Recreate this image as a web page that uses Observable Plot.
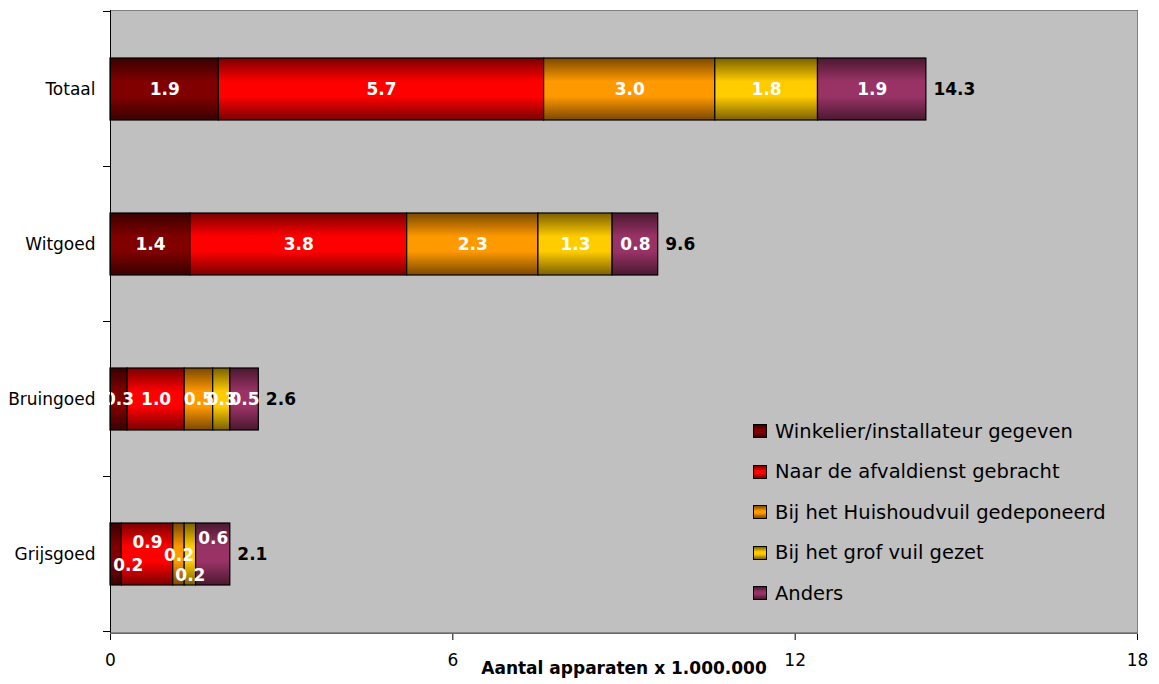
<!DOCTYPE html>
<html>
<head>
<meta charset="utf-8">
<script src="https://cdn.jsdelivr.net/npm/d3@7"></script>
<script src="https://cdn.jsdelivr.net/npm/@observablehq/plot@0.6"></script>
<style>
  body { margin: 0; background: #fff; font-family: "DejaVu Sans", sans-serif; }
  #wrap { position: relative; width: 1159px; height: 684px; }
  #legend { position: absolute; left: 753px; top: 411px; font-family: "DejaVu Sans", sans-serif; font-size: 19.5px; color: #000; }
  #legend .item { height: 40.5px; display: flex; align-items: center; white-space: nowrap; }
  #legend .sw { width: 14px; height: 14px; box-sizing: border-box; border: 1px solid #000; margin-right: 8px; flex: none; }
</style>
</head>
<body>
<div id="wrap"></div>
<script>
// ---- data ----
const categories = ["Totaal", "Witgoed", "Bruingoed", "Grijsgoed"];
const series = [
  "Winkelier/installateur gegeven",
  "Naar de afvaldienst gebracht",
  "Bij het Huishoudvuil gedeponeerd",
  "Bij het grof vuil gezet",
  "Anders"
];
const winkelier    = [1.9, 1.4, 0.3, 0.2];
const afvaldienst  = [5.7, 3.8, 1.0, 0.9];
const huishoudvuil = [3.0, 2.3, 0.5, 0.2];
const grofVuil     = [1.8, 1.3, 0.3, 0.2];
const anders       = [1.9, 0.8, 0.5, 0.6];
const totals       = [14.3, 9.6, 2.6, 2.1];
const xTicks = [0, 6, 12, 18];
const xTitle = "Aantal apparaten x 1.000.000";

// ---- styles ----
const shades = [ // [edge, middle]
  ["#3a0000", "#800000"],
  ["#7a0000", "#ff0000"],
  ["#7a4800", "#ff9900"],
  ["#7a6000", "#ffcc00"],
  ["#4a1830", "#993366"]
];
const font = "DejaVu Sans, sans-serif";

// ---- derived table ----
const valuesBySeries = [winkelier, afvaldienst, huishoudvuil, grofVuil, anders];
const stacked = [];
categories.forEach((cat, ci) => {
  let acc = 0;
  series.forEach((s, si) => {
    const v = valuesBySeries[si][ci];
    stacked.push({cat, series: s, si, value: v, x1: acc, x2: acc + v});
    acc += v;
  });
});

// label nudges for the crowded Grijsgoed bar (as in the original)
const grijsNudge = [{dx: 12, dy: 11}, {dx: 0, dy: -12}, {dx: 0, dy: 1}, {dx: 0, dy: 21}, {dx: 0, dy: -16}];

function yBoundaryTicks(index, scales, values, dims) {
  const y = scales.y;
  const step = y.step(), bw = y.bandwidth();
  const g = d3.create("svg:g");
  const ys = categories.map(c => y(c) - (step - bw) / 2);
  ys.push(y(categories[categories.length - 1]) + bw + (step - bw) / 2);
  ys.forEach(v => g.append("line")
    .attr("x1", dims.marginLeft - 7).attr("x2", dims.marginLeft)
    .attr("y1", v).attr("y2", v).attr("stroke", "#000"));
  const yb = dims.height - dims.marginBottom;
  g.append("line").attr("x1", dims.marginLeft).attr("x2", dims.width - dims.marginRight)
    .attr("y1", yb).attr("y2", yb).attr("stroke", "#505050");
  return g.node();
}

const labelOpts = {y: "cat", text: d => d.value.toFixed(1), fill: "white", fontWeight: "bold", fontSize: 17, fontFamily: font};

const chart = Plot.plot({
  width: 1159,
  height: 684,
  marginTop: 10,
  marginBottom: 51,
  marginLeft: 110,
  marginRight: 22,
  style: {fontFamily: font, fontSize: "17px", color: "#000", background: "#fff", overflow: "visible"},
  x: {domain: [0, 18], ticks: xTicks, tickSize: 7, tickPadding: 13, tickFormat: d => String(d), label: null},
  y: {domain: categories, paddingInner: 0.6, paddingOuter: 0.3, tickSize: 0, tickPadding: 15, label: null},
  color: {domain: series, range: series.map((s, i) => `url(#grad${i})`)},
  marks: [
    Plot.frame({fill: "#c0c0c0", stroke: "#808080"}),
    Plot.barX(stacked, {x1: "x1", x2: "x2", y: "cat", fill: "series", stroke: "#000", strokeWidth: 1.2}),
    Plot.text(stacked.filter(d => d.cat !== "Grijsgoed"), {...labelOpts, x: d => (d.x1 + d.x2) / 2}),
    ...grijsNudge.map((n, si) => Plot.text(stacked.filter(d => d.cat === "Grijsgoed" && d.si === si),
      {...labelOpts, x: d => (d.x1 + d.x2) / 2, dx: n.dx, dy: n.dy})),
    Plot.text(categories, {x: (d, i) => totals[i], y: d => d, text: (d, i) => totals[i].toFixed(1),
      textAnchor: "start", dx: 7, fontWeight: "bold", fontSize: 17, fill: "#000", fontFamily: font}),
    Plot.ruleX([0], {stroke: "#000"}),
    yBoundaryTicks,
    Plot.text([xTitle], {frameAnchor: "bottom", dy: 40, fontWeight: "bold", fontSize: 17, fill: "#000", fontFamily: font})
  ]
});

// gradient definitions
const svgSel = d3.select(chart.tagName.toLowerCase() === "svg" ? chart : chart.querySelector("svg"));
const defs = svgSel.insert("defs", ":first-child");
shades.forEach(([edge, mid], i) => {
  const lg = defs.append("linearGradient").attr("id", `grad${i}`)
    .attr("x1", 0).attr("y1", 0).attr("x2", 0).attr("y2", 1);
  lg.append("stop").attr("offset", "0%").attr("stop-color", edge);
  lg.append("stop").attr("offset", "38%").attr("stop-color", mid);
  lg.append("stop").attr("offset", "62%").attr("stop-color", mid);
  lg.append("stop").attr("offset", "100%").attr("stop-color", edge);
});

const wrap = document.getElementById("wrap");
wrap.appendChild(chart);

// legend
const legend = d3.select(wrap).append("div").attr("id", "legend");
series.forEach((s, i) => {
  const item = legend.append("div").attr("class", "item");
  item.append("div").attr("class", "sw")
    .style("background", `linear-gradient(to bottom, ${shades[i][0]} 0%, ${shades[i][1]} 40%, ${shades[i][1]} 60%, ${shades[i][0]} 100%)`);
  item.append("span").text(s);
});
</script>
</body>
</html>
